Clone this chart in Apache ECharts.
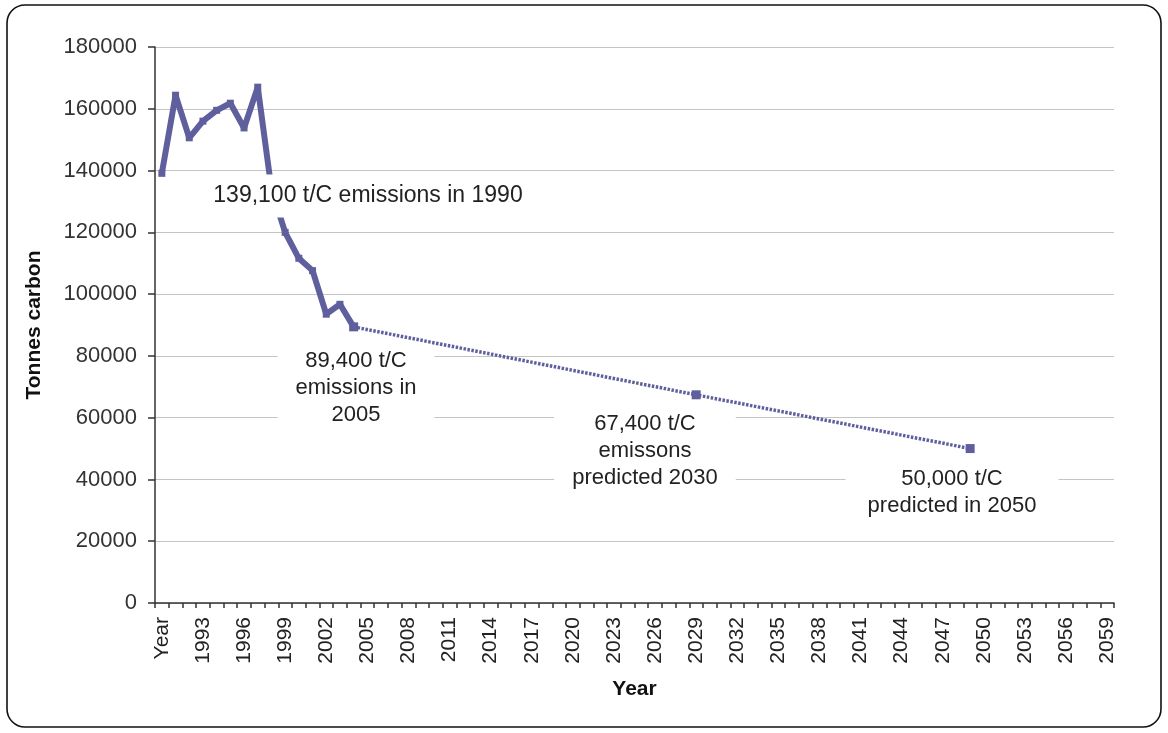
<!DOCTYPE html>
<html>
<head>
<meta charset="utf-8">
<script src="https://cdn.jsdelivr.net/npm/echarts@6/dist/echarts.min.js"></script>
<style>
html,body{margin:0;padding:0;background:#fff;}
#chart{width:1168px;height:733px;}
</style>
</head>
<body>
<div id="chart"></div>
<script>
// Category labels (first column header "Year" occupies the first slot)
var categories = ['Year','1991','1992','1993','1994','1995','1996','1997','1998','1999',
  '2000','2001','2002','2003','2004','2005','2006','2007','2008','2009',
  '2010','2011','2012','2013','2014','2015','2016','2017','2018','2019',
  '2020','2021','2022','2023','2024','2025','2026','2027','2028','2029',
  '2030','2031','2032','2033','2034','2035','2036','2037','2038','2039',
  '2040','2041','2042','2043','2044','2045','2046','2047','2048','2049',
  '2050','2051','2052','2053','2054','2055','2056','2057','2058','2059'];

// Recorded emissions (t/C), one per category from the first slot
var actualValues = [139100, 164400, 150600, 156000, 159500, 161800, 153800, 167000,
  134000, 120000, 111600, 107600, 93500, 96700, 89400];

// Projection: anchor points only
var projectedCats = ['2004', '2029', '2049'];
var projectedValues = [89400, 67400, 50000];

// Y axis ticks
var yMin = 0, yMax = 180000, yStep = 20000;

// Annotation texts
var annotations = [
  '139,100 t/C emissions in 1990',
  '89,400 t/C\nemissions in\n2005',
  '67,400 t/C\nemissons\npredicted 2030',
  '50,000 t/C\npredicted in 2050'
];

var LINE = '#5f5f9d';
var FONT = '"Liberation Sans", Arial, sans-serif';

var chart = echarts.init(document.getElementById('chart'), null, {renderer: 'canvas'});

function annot(text, cx, cy, size, pad) {
  return {
    type: 'text',
    z: 100,
    x: cx, y: cy,
    style: {
      text: text,
      font: size + 'px ' + FONT,
      fill: '#222',
      align: 'center',
      verticalAlign: 'middle',
      lineHeight: 27,
      backgroundColor: '#fff',
      padding: pad
    }
  };
}

var option = {
  animation: false,
  backgroundColor: '#fff',
  grid: {left: 155, right: 54, top: 47, bottom: 130, containLabel: false},
  xAxis: {
    type: 'category',
    data: categories,
    boundaryGap: true,
    name: 'Year',
    nameLocation: 'middle',
    nameGap: 76,
    nameTextStyle: {fontFamily: FONT, fontSize: 21, fontWeight: 'bold', color: '#111'},
    axisLine: {show: true, lineStyle: {color: '#333', width: 1.5}},
    axisTick: {show: true, interval: 0, length: 5, lineStyle: {color: '#333', width: 1.5}},
    axisLabel: {interval: 2, rotate: 90, fontFamily: FONT, fontSize: 21, color: '#222', margin: 14},
    splitLine: {show: false}
  },
  yAxis: {
    type: 'value',
    min: yMin, max: yMax, interval: yStep,
    name: 'Tonnes carbon',
    nameLocation: 'middle',
    nameRotate: 90,
    nameGap: 110,
    nameTextStyle: {fontFamily: FONT, fontSize: 21, fontWeight: 'bold', color: '#111'},
    axisLine: {show: true, lineStyle: {color: '#333', width: 1.5}},
    axisTick: {show: true, length: 7, lineStyle: {color: '#333', width: 1.5}},
    axisLabel: {fontFamily: FONT, fontSize: 22, color: '#333', margin: 18,
      formatter: function (v) { return String(v); }},
    splitLine: {show: true, lineStyle: {color: '#c4c4c4', width: 1.2}}
  },
  series: [
    {
      type: 'line',
      data: actualValues,
      symbol: 'rect',
      symbolSize: 7,
      showAllSymbol: true,
      lineStyle: {color: LINE, width: 6},
      itemStyle: {color: LINE},
      z: 3
    },
    {
      type: 'line',
      data: projectedCats.map(function (c, i) { return [c, projectedValues[i]]; }),
      symbol: 'rect',
      symbolSize: 9,
      lineStyle: {color: LINE, width: 3.5, type: [2.5, 1.5]},
      itemStyle: {color: LINE},
      z: 2
    }
  ],
  graphic: [
    {
      type: 'rect',
      z: -10,
      shape: {x: 7, y: 5, width: 1154, height: 722, r: 18},
      style: {fill: 'none', stroke: '#111', lineWidth: 1.6}
    },
    annot(annotations[0], 368, 196, 23, [8, 8, 8, 8]),
    annot(annotations[1], 356, 388, 22, [2, 18, 2, 18]),
    annot(annotations[2], 645, 451, 22, [6, 18, 6, 18]),
    annot(annotations[3], 952, 492, 22, [4, 22, 4, 22])
  ]
};
chart.setOption(option);
</script>
</body>
</html>
